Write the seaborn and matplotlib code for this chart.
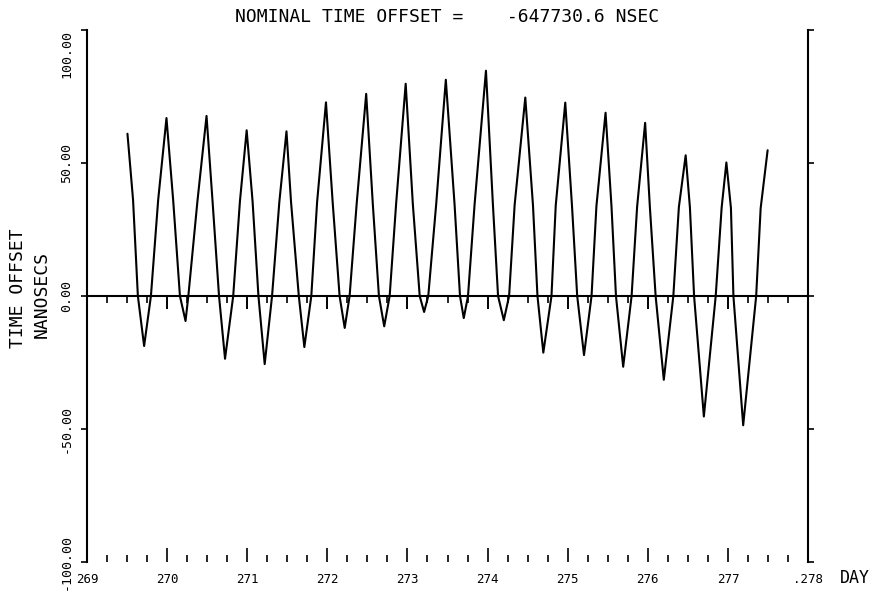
import numpy as np
import pandas as pd
import matplotlib
matplotlib.use("Agg")
import matplotlib.pyplot as plt
import seaborn as sns

# day of year and time offset in nanoseconds
day = [
    269.505, 269.575, 269.635, 269.713, 269.798, 269.888, 269.992, 270.076,
    270.160, 270.230, 270.265, 270.379, 270.492, 270.567, 270.648, 270.723,
    270.825, 270.909, 270.993, 271.067, 271.140, 271.218, 271.310, 271.401,
    271.490, 271.547, 271.644, 271.713, 271.800, 271.872, 271.983, 272.067,
    272.153, 272.217, 272.278, 272.367, 272.485, 272.567, 272.644, 272.710,
    272.778, 272.859, 272.978, 273.067, 273.153, 273.208, 273.260, 273.359,
    273.479, 273.588, 273.656, 273.703, 273.756, 273.838, 273.980, 274.067,
    274.131, 274.203, 274.269, 274.338, 274.471, 274.567, 274.623, 274.696,
    274.798, 274.851, 274.970, 275.054, 275.119, 275.204, 275.298, 275.359,
    275.473, 275.547, 275.603, 275.693, 275.798, 275.867, 275.967, 276.026,
    276.098, 276.200, 276.319, 276.388, 276.473, 276.526, 276.578, 276.700,
    276.848, 276.922, 276.981, 277.038, 277.069, 277.191, 277.353, 277.409,
    277.496,
]
offset_ns = [
    61.0, 36.1, 0.0, -18.8, 0.0, 36.0, 66.9, 35.9,
    0.0, -9.4, 0.0, 35.8, 67.7, 35.7, 0.0, -23.6,
    0.0, 35.6, 62.3, 35.5, 0.0, -25.6, 0.0, 35.4,
    61.9, 35.3, 0.0, -19.2, 0.0, 35.2, 72.8, 35.1,
    0.0, -12.0, 0.0, 35.0, 76.0, 34.9, 0.0, -11.4,
    0.0, 34.8, 79.8, 34.7, 0.0, -6.0, 0.0, 34.6,
    81.3, 34.5, 0.0, -8.3, 0.0, 34.4, 84.7, 34.3,
    0.0, -9.1, 0.0, 34.2, 74.6, 34.1, 0.0, -21.3,
    0.0, 34.0, 72.7, 33.9, 0.0, -22.2, 0.0, 33.8,
    68.9, 33.7, 0.0, -26.6, 0.0, 33.6, 65.1, 33.5,
    0.0, -31.5, 0.0, 33.4, 52.9, 33.3, 0.0, -45.3,
    0.0, 33.2, 50.2, 33.1, 0.0, -48.6, 0.0, 33.0,
    54.8,
]

x_ticks = [269, 270, 271, 272, 273, 274, 275, 276, 277, 278]
x_labels = ["269", "270", "271", "272", "273", "274", "275", "276", "277", ".278"]
y_ticks = [-100, -50, 0, 50, 100]
y_labels = ["-100.00", "-50.00", "0.00", "50.00", "100.00"]

sns.set_style("white")
plt.rcParams["font.family"] = ["DejaVu Sans Mono", "DejaVu Sans"]
plt.rcParams["text.color"] = "black"
plt.rcParams["axes.labelcolor"] = "black"
plt.rcParams["xtick.color"] = "black"
plt.rcParams["ytick.color"] = "black"

df = pd.DataFrame({"day": day, "offset": offset_ns})

fig = plt.figure(figsize=(8.74, 5.94), dpi=100)
ax = fig.add_axes([87 / 874, 32 / 594, 721 / 874, 532 / 594])

sns.lineplot(data=df, x="day", y="offset", ax=ax, color="black",
             linewidth=1.5, sort=False, estimator=None)

ax.set_xlim(269, 278)
ax.set_ylim(-100, 100)

# zero line with quarter-day ticks hanging below it
ax.axhline(0, color="black", lw=1.5)
quarters = np.arange(269.25, 278, 0.25)
whole = quarters[quarters % 1 == 0]
part = quarters[quarters % 1 != 0]
ax.vlines(whole, -4.9, 0, color="black", lw=1.4)
ax.vlines(part, -2.6, 0, color="black", lw=1.2)

ax.set_xticks(x_ticks)
ax.set_xticklabels(x_labels)
ax.set_xticks(np.arange(269, 278.01, 0.25), minor=True)
ax.tick_params(axis="x", which="major", direction="in", length=10, width=1.2,
               pad=8, labelsize=9, bottom=True)
ax.tick_params(axis="x", which="minor", direction="in", length=5, width=1.2,
               bottom=True)

ax.set_yticks(y_ticks)
ax.set_yticklabels(y_labels, rotation=90, va="center")
ax.get_yticklabels()[-1].set_va("top")
ax.tick_params(axis="y", direction="out", length=4, width=1.2, pad=6,
               labelsize=9.5, left=True, right=True, labelright=False)

for side in ["top", "bottom"]:
    ax.spines[side].set_visible(False)
for side in ["left", "right"]:
    ax.spines[side].set_linewidth(1.5)
    ax.spines[side].set_color("black")

ax.set_xlabel("")
ax.set_ylabel("")
ax.set_title("NOMINAL TIME OFFSET =    -647730.6 NSEC", pad=6, fontsize=13)

fig.text(18 / 874, 1 - 288 / 594, "TIME OFFSET", rotation=90,
         ha="center", va="center", fontsize=13)
fig.text(42 / 874, 1 - 294 / 594, "NANOSECS", rotation=90,
         ha="center", va="center", fontsize=13)
fig.text(855 / 874, 1 - 578 / 594, "DAY", ha="center", va="center", fontsize=12)

fig.savefig("out.png", dpi=100)
